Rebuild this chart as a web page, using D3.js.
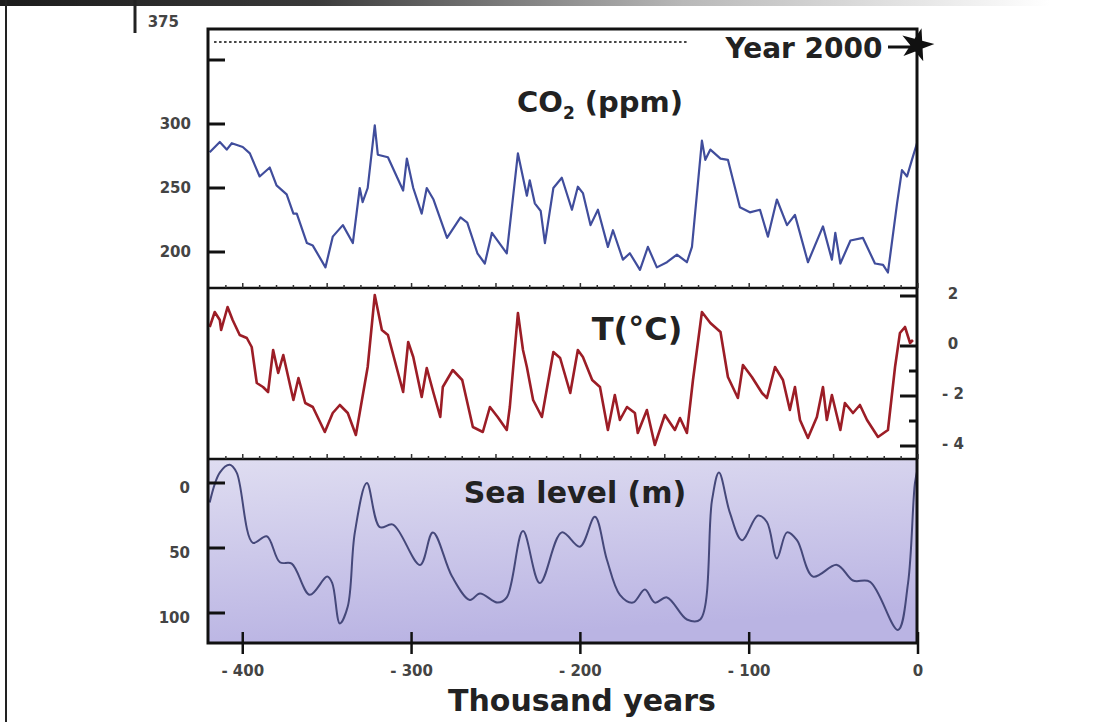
<!DOCTYPE html>
<html><head><meta charset="utf-8">
<script src="https://cdn.jsdelivr.net/npm/d3@7"></script>
<style>body{margin:0;background:#fff;} svg{display:block;}</style>
</head><body>
<svg id="c" width="1120" height="722"></svg>
<script>
// ---- data ----
const xTicks = [-400, -300, -200, -100, 0];
const xTickLabels = ["- 400", "- 300", "- 200", "- 100", "0"];
const co2Ticks = [200, 250, 300, 350];
const co2TickLabels = ["200", "250", "300", ""];
const co2TopLabel = "375";
const tTicks = [2, 0, -1, -2, -3, -4];
const tTickLabels = ["2", "0", "", "- 2", "", "- 4"];
const seaTicks = [0, 50, 100];
const seaTickLabels = ["0", "50", "100"];
const year2000CO2 = 364;

const co2Age = [-419.6,-413.6,-409.5,-406.5,-400,-395.8,-390,-384,-380,-374,-370,-368,-362,-358.5,-351,-346.7,-340.7,-334.8,-330.7,-329,-326,-321.8,-320,-314,-305,-302.8,-299,-294,-291,-287,-279,-271,-267,-261,-256.6,-252.4,-243.6,-237,-231.7,-230,-227,-223.5,-221,-216,-211,-205,-201.5,-198.5,-194,-189.6,-183.7,-180.7,-174.8,-170.7,-164.7,-160,-154.7,-148.7,-142.8,-136.9,-133.9,-128,-126,-123,-117,-112.6,-105.5,-99.6,-93.6,-88.9,-83.6,-77.6,-72.9,-65.2,-56.3,-51,-49,-46,-40,-32.6,-25.5,-20.7,-17.8,-12.4,-9.5,-6.5,-3.6,-0.6];
const co2Val = [278,286,280,285,282,277,259,266,252,245,230,230,207,205,188,212,221,207,250,239,250,299,276,274,248,273,250,230,250,241,211,227,223,199,191,215,199,277,244,256,238,232,207,250,258,233,251,246,221,233,204,217,194,199,186,204,188,192,198,192,204,287,272,280,273,272,235,231,233,212,241,221,229,192,220,194,215,191,209,211,191,190,184,238,264,259,272,285];

const tAge = [-419.6,-416.6,-413.6,-412.8,-409,-406,-401.8,-397.6,-394.7,-391.7,-388,-385,-382,-379,-376,-370,-367,-363,-358.5,-351.4,-346.7,-342.5,-337.8,-333,-326,-321.8,-317.6,-314,-305,-302,-299,-294,-291,-287,-283,-281.5,-275.6,-270,-263.7,-257.8,-253.6,-249,-243.6,-241.8,-237,-234,-231.7,-228,-222.8,-216,-212,-206,-201.5,-198.5,-193,-188.4,-183.7,-179.6,-176.6,-172.4,-167.7,-166,-160.6,-155.9,-150,-144,-141,-136.9,-133.3,-128,-123,-117,-112.6,-106.7,-103.7,-98.4,-92.4,-89.5,-84.7,-80,-75.9,-72.9,-69.9,-65.2,-59.9,-56.3,-54,-51,-46,-43.3,-38.5,-34.4,-30.2,-23.7,-17.8,-13.6,-10.7,-7.7,-4.7,-3];
const tVal = [0.76,1.36,1.04,0.64,1.56,1.04,0.44,0.32,-0.04,-1.48,-1.64,-1.84,-0.16,-1.08,-0.36,-2.16,-1.28,-2.28,-2.44,-3.44,-2.68,-2.36,-2.68,-3.56,-0.84,2.04,0.64,0.44,-1.84,0.16,-0.44,-2.04,-0.88,-1.88,-2.84,-1.64,-0.96,-1.36,-3.24,-3.44,-2.44,-2.84,-3.36,-2.44,1.32,-0.16,-0.84,-2.16,-2.84,-0.24,-0.48,-1.88,-0.16,-0.44,-1.36,-1.64,-3.36,-1.96,-2.96,-2.44,-2.68,-3.48,-2.56,-3.96,-2.76,-3.36,-2.88,-3.48,-1.36,1.36,0.92,0.56,-1.24,-2.08,-0.76,-1.24,-1.88,-2.08,-0.84,-1.36,-2.56,-1.64,-2.96,-3.68,-2.84,-1.64,-2.96,-1.96,-3.36,-2.28,-2.68,-2.36,-2.96,-3.64,-3.36,-0.84,0.52,0.76,0.12,0.24];

const seaAge = [-419.6,-413.6,-407.7,-403.6,-394,-385.8,-378,-371,-360.3,-350,-347,-342.5,-337.8,-333.6,-326.5,-318.8,-311,-295,-287.4,-276,-265.5,-259.5,-249,-243.6,-234,-224,-211,-200.3,-191.4,-184.3,-176.6,-168.9,-161.8,-155.9,-148.7,-136.9,-129,-122,-117.9,-111.4,-104.3,-94.8,-89.5,-83.6,-77.6,-71.7,-62.2,-48,-38.5,-28.4,-11.9,-5.9,-1.8,0];
const seaVal = [15,-8,-14,-8,46,41,61,62,86,72,77,108,95,38,0,34,32,63,38,72,90,85,92,88,37,77,38,49,26,59,86,92,82,92,88,105,105,13,-8,23,44,25,30,58,38,44,72,63,75,76,113,77,0,-12];

// ---- layout ----
const svg = d3.select("#c");
const L = 208, R = 917, T0 = 29, D1 = 288, D2 = 459, B = 643;
const x = d3.scaleLinear().domain([-420, 0]).range([L + 1, R + 1]);
const yCO2 = d3.scaleLinear().domain([200, 300]).range([252, 124]);
const yT = d3.scaleLinear().domain([0, -4]).range([346, 446]);
const ySea = d3.scaleLinear().domain([0, 100]).range([483, 613]);

const defs = svg.append("defs");
const tg = defs.append("linearGradient").attr("id", "topbar").attr("x1", 0).attr("x2", 1).attr("y1", 0).attr("y2", 0);
tg.append("stop").attr("offset", "0").attr("stop-color", "#1c1c1c");
tg.append("stop").attr("offset", "0.3").attr("stop-color", "#3a3a3a");
tg.append("stop").attr("offset", "0.65").attr("stop-color", "#b8b8b8");
tg.append("stop").attr("offset", "1").attr("stop-color", "#ffffff");
const sg = defs.append("linearGradient").attr("id", "sea").attr("x1", 0).attr("x2", 0.25).attr("y1", 0).attr("y2", 1);
sg.append("stop").attr("offset", "0").attr("stop-color", "#dfddf1");
sg.append("stop").attr("offset", "1").attr("stop-color", "#bab4e3");
const clip = defs.append("clipPath").attr("id", "clip");
clip.append("rect").attr("x", L).attr("y", T0).attr("width", R - L).attr("height", B - T0);

// page decorations
svg.append("rect").attr("x", 0).attr("y", 0).attr("width", 1050).attr("height", 6).attr("fill", "url(#topbar)");
svg.append("line").attr("x1", 6).attr("x2", 6).attr("y1", 0).attr("y2", 722).attr("stroke", "#222").attr("stroke-width", 2);
svg.append("line").attr("x1", 135).attr("x2", 135).attr("y1", 0).attr("y2", 33).attr("stroke", "#222").attr("stroke-width", 3);

// sea panel background
svg.append("rect").attr("x", L).attr("y", D2).attr("width", R - L).attr("height", B - D2).attr("fill", "url(#sea)");

const g = svg.append("g").attr("clip-path", "url(#clip)");

// CO2 line
g.append("path").datum(co2Age.map((a, i) => [a, co2Val[i]]))
  .attr("d", d3.line().x(d => x(d[0])).y(d => yCO2(d[1])))
  .attr("fill", "none").attr("stroke", "#404d9c").attr("stroke-width", 2.2).attr("stroke-linejoin", "round");
// T line
g.append("path").datum(tAge.map((a, i) => [a, tVal[i]]))
  .attr("d", d3.line().x(d => x(d[0])).y(d => yT(d[1])))
  .attr("fill", "none").attr("stroke", "#9c1d26").attr("stroke-width", 2.6).attr("stroke-linejoin", "round");
// Sea line
g.append("path").datum(seaAge.map((a, i) => [a, seaVal[i]]))
  .attr("d", d3.line().curve(d3.curveCatmullRom.alpha(0.5)).x(d => x(d[0])).y(d => ySea(d[1])))
  .attr("fill", "none").attr("stroke", "#45487a").attr("stroke-width", 2);

// Year 2000 dotted line
svg.append("line").attr("x1", x(-417)).attr("x2", x(-136)).attr("y1", yCO2(year2000CO2)).attr("y2", yCO2(year2000CO2))
  .attr("stroke", "#444").attr("stroke-width", 2).attr("stroke-dasharray", "2.5,2.5");

// frame
const fr = svg.append("g").attr("stroke", "#111").attr("fill", "none");
fr.append("rect").attr("x", L).attr("y", T0).attr("width", R - L).attr("height", B - T0).attr("stroke-width", 3);
fr.append("line").attr("x1", L).attr("x2", R).attr("y1", D1).attr("y2", D1).attr("stroke-width", 2.5);
fr.append("line").attr("x1", L).attr("x2", R).attr("y1", D2).attr("y2", D2).attr("stroke-width", 2.5);

// minor ticks on dividers
const minor = d3.range(-410, 1, 10);
[D1, D2].forEach(yy => {
  svg.append("g").selectAll("line").data(minor).join("line")
    .attr("x1", d => x(d)).attr("x2", d => x(d))
    .attr("y1", yy).attr("y2", d => yy - (d % 50 === 0 ? 5 : 3))
    .attr("stroke", "#333").attr("stroke-width", 1.5);
});

const lblFont = "DejaVu Sans, Verdana, sans-serif";
const lblSize = 15;
// CO2 axis
const co2Ax = svg.append("g");
co2Ax.selectAll("line").data(co2Ticks).join("line")
  .attr("x1", L).attr("x2", L + 17).attr("y1", d => yCO2(d)).attr("y2", d => yCO2(d))
  .attr("stroke", "#111").attr("stroke-width", 3);
co2Ax.selectAll("text").data(co2Ticks).join("text")
  .attr("x", 191).attr("y", d => yCO2(d) + 5).attr("text-anchor", "end")
  .attr("font-family", lblFont).attr("font-weight", "bold").attr("font-size", lblSize).attr("fill", "#444")
  .text((d, i) => co2TickLabels[i]);
svg.append("text").attr("x", 179).attr("y", yCO2(375) - 1).attr("text-anchor", "end")
  .attr("font-family", lblFont).attr("font-weight", "bold").attr("font-size", lblSize).attr("fill", "#444").text(co2TopLabel);

// T axis (right)
const tAx = svg.append("g");
tAx.selectAll("line").data(tTicks).join("line")
  .attr("x1", d => R - (d % 2 === 0 ? 17 : 8)).attr("x2", R).attr("y1", d => yT(d)).attr("y2", d => yT(d))
  .attr("stroke", "#111").attr("stroke-width", 3);
tAx.selectAll("text").data(tTicks).join("text")
  .attr("x", 953).attr("y", d => yT(d) + 3).attr("text-anchor", "middle")
  .attr("font-family", lblFont).attr("font-weight", "bold").attr("font-size", lblSize).attr("fill", "#444")
  .text((d, i) => tTickLabels[i]);

// Sea axis
const sAx = svg.append("g");
sAx.selectAll("line").data(seaTicks).join("line")
  .attr("x1", L).attr("x2", L + 17).attr("y1", d => ySea(d)).attr("y2", d => ySea(d))
  .attr("stroke", "#111").attr("stroke-width", 3);
sAx.selectAll("text").data(seaTicks).join("text")
  .attr("x", 190).attr("y", d => ySea(d) + 10).attr("text-anchor", "end")
  .attr("font-family", lblFont).attr("font-weight", "bold").attr("font-size", lblSize).attr("fill", "#444")
  .text((d, i) => seaTickLabels[i]);

// X axis
const xAx = svg.append("g");
xAx.selectAll("line").data(xTicks).join("line")
  .attr("x1", d => x(d)).attr("x2", d => x(d)).attr("y1", B - 11).attr("y2", B + 11)
  .attr("stroke", "#111").attr("stroke-width", 2.5);
xAx.selectAll("text").data(xTicks).join("text")
  .attr("x", d => x(d)).attr("y", B + 33).attr("text-anchor", "middle")
  .attr("font-family", lblFont).attr("font-weight", "bold").attr("font-size", lblSize).attr("fill", "#444")
  .text((d, i) => xTickLabels[i]);

// titles
function title(txt, xx, yy, size) {
  return svg.append("text").attr("x", xx).attr("y", yy).attr("font-family", lblFont).attr("font-weight", "bold")
    .attr("font-size", size).attr("fill", "#222").attr("text-anchor", "middle").text(txt);
}
const co2T = svg.append("text").attr("x", 600).attr("y", 112).attr("font-family", lblFont).attr("font-weight", "bold")
  .attr("font-size", 29).attr("fill", "#222").attr("text-anchor", "middle");
co2T.append("tspan").text("CO");
co2T.append("tspan").attr("font-size", 17).attr("dy", 7).text("2");
co2T.append("tspan").attr("dy", -7).text(" (ppm)");
title("T(°C)", 637, 340, 32);
title("Sea level (m)", 575, 503, 30);
title("Thousand years", 582, 711, 30);
title("Year 2000", 804, 58, 28);

// star + pointer
svg.append("line").attr("x1", 888).attr("x2", 912).attr("y1", 47).attr("y2", 47).attr("stroke", "#111").attr("stroke-width", 3);
svg.append("path").attr("d", d3.symbol(d3.symbolStar, 340)())
  .attr("transform", "translate(917,45) rotate(15)").attr("fill", "#111");
</script>
</body></html>
